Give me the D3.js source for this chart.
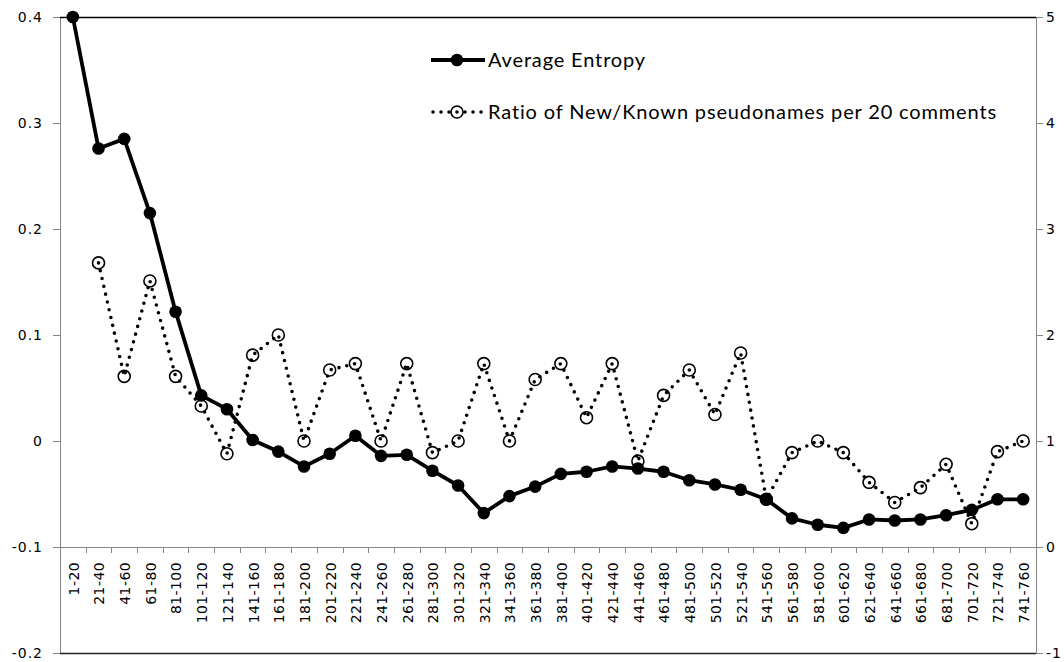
<!DOCTYPE html>
<html>
<head>
<meta charset="utf-8">
<script src="https://cdn.jsdelivr.net/npm/d3@7"></script>
<style>
  body { margin: 0; background: #fff; }
  #chart { width: 1064px; height: 662px; }
</style>
</head>
<body>
<div id="chart"></div>
<script>
// categories (comment ranges)
var categories = ["1-20","21-40","41-60","61-80","81-100","101-120","121-140","141-160","161-180","181-200",
  "201-220","221-240","241-260","261-280","281-300","301-320","321-340","341-360","361-380","381-400",
  "401-420","421-440","441-460","461-480","481-500","501-520","521-540","541-560","561-580","581-600",
  "601-620","621-640","641-660","661-680","681-700","701-720","721-740","741-760"];

// left axis series
var entropy = [0.400, 0.276, 0.285, 0.215, 0.122, 0.043, 0.030, 0.001, -0.010, -0.024,
  -0.012, 0.005, -0.014, -0.013, -0.028, -0.042, -0.068, -0.052, -0.043, -0.031,
  -0.029, -0.024, -0.026, -0.029, -0.037, -0.041, -0.046, -0.055, -0.073, -0.079,
  -0.082, -0.074, -0.075, -0.074, -0.070, -0.065, -0.055, -0.055];

// right axis series (no value for the first range)
var ratio = [null, 2.68, 1.61, 2.51, 1.61, 1.33, 0.88, 1.81, 2.00, 1.00,
  1.67, 1.73, 1.00, 1.73, 0.89, 1.00, 1.73, 1.00, 1.58, 1.73,
  1.22, 1.73, 0.81, 1.43, 1.67, 1.25, 1.83, 0.45, 0.89, 1.00,
  0.89, 0.61, 0.42, 0.56, 0.78, 0.22, 0.90, 1.00];

var leftTicks = [-0.2, -0.1, 0, 0.1, 0.2, 0.3, 0.4];
var rightTicks = [-1, 0, 1, 2, 3, 4, 5];
var legendLabels = ["Average Entropy", "Ratio of New/Known pseudonames per 20 comments"];

var W = 1064, H = 662;
var plotL = 60, plotR = 1036, plotT = 17, plotB = 653;

var svg = d3.select("#chart").append("svg")
    .attr("width", W)
    .attr("height", H);

var x = d3.scaleBand().domain(categories).range([plotL, plotR]).padding(0);
var yL = d3.scaleLinear().domain([-0.2, 0.4]).range([plotB, plotT]);
var yR = d3.scaleLinear().domain([-1, 5]).range([plotB, plotT]);

var fmt = function (d) { return d === 0 ? "0" : String(d); };

// left axis
var gL = svg.append("g")
    .attr("transform", "translate(" + plotL + ",0)")
    .call(d3.axisLeft(yL).tickValues(leftTicks).tickSize(7).tickPadding(10).tickFormat(fmt));

// right axis
var gR = svg.append("g")
    .attr("transform", "translate(" + plotR + ",0)")
    .call(d3.axisRight(yR).tickValues(rightTicks).tickSize(7).tickPadding(3).tickFormat(fmt));

[gL, gR].forEach(function (g) {
    g.select(".domain").attr("stroke", "#868686");
    g.selectAll(".tick line").attr("stroke", "#868686");
    g.selectAll("text")
        .attr("fill", "#000")
        .style("font-family", "'DejaVu Sans', Verdana, sans-serif")
        .style("font-size", "14px")
        .style("letter-spacing", "1px");
});

// top and bottom border of plot area
svg.append("line").attr("x1", plotL).attr("x2", plotR)
    .attr("y1", plotT + 0.5).attr("y2", plotT + 0.5)
    .attr("stroke", "#000").attr("stroke-width", 1.3);
svg.append("line").attr("x1", plotL).attr("x2", plotR)
    .attr("y1", plotB + 0.5).attr("y2", plotB + 0.5)
    .attr("stroke", "#222").attr("stroke-width", 1.5);

// category axis, crossing at -0.1 on the left scale
var axisY = yL(-0.1);
var gX = svg.append("g")
    .attr("transform", "translate(0," + axisY + ")")
    .call(d3.axisBottom(x).tickSize(0).tickPadding(0));
gX.select(".domain").attr("stroke", "#868686");
gX.selectAll("text")
    .attr("transform", "translate(1,15)rotate(-90)")
    .attr("x", 0).attr("y", 0).attr("dy", "0.35em")
    .style("text-anchor", "end")
    .attr("fill", "#000")
    .style("font-family", "'DejaVu Sans', Verdana, sans-serif")
    .style("font-size", "14px")
    .style("letter-spacing", "0.4px");

// tick marks between categories
gX.selectAll(".bound")
    .data(categories.slice(1))
    .enter()
    .append("line")
    .attr("x1", function (d) { return Math.round(x(d)) + 0.5; })
    .attr("x2", function (d) { return Math.round(x(d)) + 0.5; })
    .attr("y1", 0).attr("y2", 6)
    .attr("stroke", "#868686");

var cx = function (i) { return x(categories[i]) + x.bandwidth() / 2; };

// ratio series (dotted)
var ratioPts = ratio.map(function (v, i) { return { i: i, v: v }; })
    .filter(function (d) { return d.v !== null; });

var ratioLine = d3.line()
    .x(function (d) { return cx(d.i); })
    .y(function (d) { return yR(d.v); });

svg.append("path")
    .datum(ratioPts)
    .attr("d", ratioLine)
    .attr("fill", "none")
    .attr("stroke", "#000")
    .attr("stroke-width", 3.6)
    .attr("stroke-linecap", "round")
    .attr("stroke-dasharray", "0,8");

svg.selectAll(".rdot")
    .data(ratioPts)
    .enter()
    .append("circle")
    .attr("cx", function (d) { return cx(d.i); })
    .attr("cy", function (d) { return yR(d.v); })
    .attr("r", 6)
    .attr("fill", "none")
    .attr("stroke", "#000")
    .attr("stroke-width", 1.6);

// entropy series (solid)
var entLine = d3.line()
    .x(function (d, i) { return cx(i); })
    .y(function (d) { return yL(d); });

svg.append("path")
    .datum(entropy)
    .attr("d", entLine)
    .attr("fill", "none")
    .attr("stroke", "#000")
    .attr("stroke-width", 3.8)
    .attr("stroke-linejoin", "round");

svg.selectAll(".edot")
    .data(entropy)
    .enter()
    .append("circle")
    .attr("cx", function (d, i) { return cx(i); })
    .attr("cy", function (d) { return yL(d); })
    .attr("r", 6.3)
    .attr("fill", "#000");

// legend
var lg = svg.append("g");
lg.append("line").attr("x1", 431).attr("x2", 485).attr("y1", 60).attr("y2", 60)
    .attr("stroke", "#000").attr("stroke-width", 3.8);
lg.append("circle").attr("cx", 457).attr("cy", 60).attr("r", 6.3).attr("fill", "#000");
lg.append("line").attr("x1", 433).attr("x2", 485).attr("y1", 112).attr("y2", 112)
    .attr("stroke", "#000").attr("stroke-width", 3.6)
    .attr("stroke-linecap", "round").attr("stroke-dasharray", "0,8");
lg.append("circle").attr("cx", 457).attr("cy", 112).attr("r", 6)
    .attr("fill", "#fff").attr("stroke", "#000").attr("stroke-width", 1.6);
lg.append("circle").attr("cx", 457).attr("cy", 112).attr("r", 1.8).attr("fill", "#000");

lg.selectAll(".ltxt")
    .data(legendLabels)
    .enter()
    .append("text")
    .attr("x", 488)
    .attr("y", function (d, i) { return 67 + i * 52; })
    .text(function (d) { return d; })
    .attr("fill", "#000")
    .style("font-family", "Lato, 'Open Sans', sans-serif")
    .style("font-size", "20px")
    .style("letter-spacing", "0.85px");
</script>
</body>
</html>
